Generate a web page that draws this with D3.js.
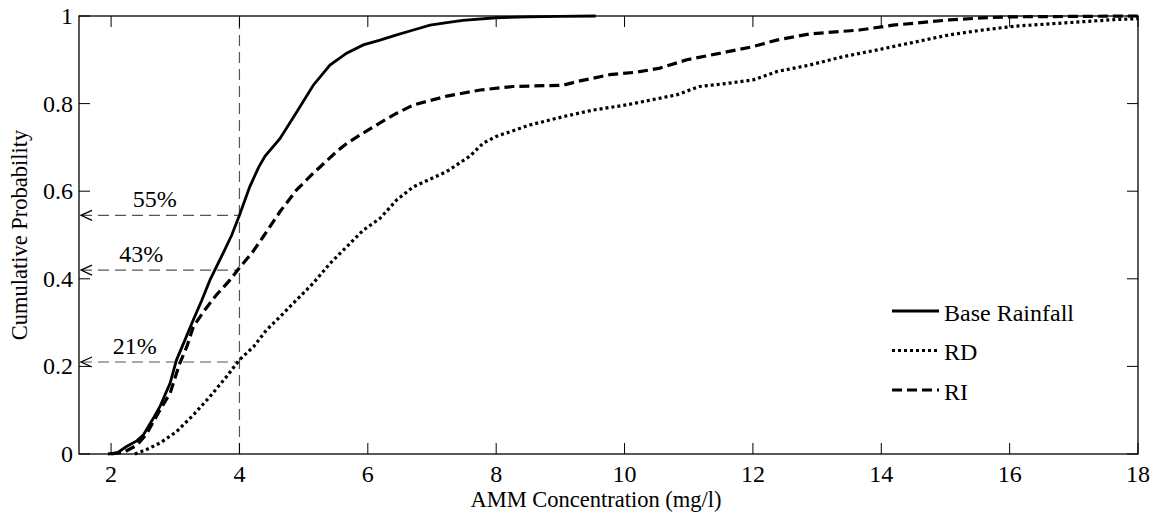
<!DOCTYPE html>
<html>
<head>
<meta charset="utf-8">
<script src="https://cdn.jsdelivr.net/npm/d3@7/dist/d3.min.js"></script>
<style>
    body { margin: 0; background: #fff; }
    text { font-family: "Liberation Serif", "Times New Roman", Times, serif; fill: #000; }
    .tick-label { font-size: 24px; }
    .axis-title { font-size: 22.5px; }
    .legend-label { font-size: 24px; }
    .pct-label { font-size: 24px; }
</style>
</head>
<body>
<div id="chart"></div>
<script>

// Cumulative curves (x = AMM mg/l, p = cumulative probability)
const baseX = [1.95, 2.1, 2.24, 2.4, 2.5, 2.66, 2.76, 2.92, 3.02, 3.15, 3.28, 3.41, 3.54, 3.65, 3.75, 3.88, 4.0, 4.16, 4.3, 4.4, 4.63, 4.89, 5.15, 5.41, 5.67, 5.93, 6.19, 6.45, 6.71, 6.97, 7.23, 7.48, 8.0, 8.5, 9.0, 9.55];
const baseP = [0, 0.003, 0.017, 0.03, 0.043, 0.082, 0.108, 0.162, 0.215, 0.26, 0.306, 0.35, 0.397, 0.43, 0.46, 0.5, 0.545, 0.61, 0.655, 0.68, 0.72, 0.78, 0.842, 0.888, 0.915, 0.934, 0.945, 0.957, 0.968, 0.979, 0.985, 0.99, 0.996, 0.998, 0.999, 1.0];

const rdX = [2.37, 2.55, 2.76, 3.02, 3.28, 3.54, 3.8, 4.0, 4.22, 4.42, 4.63, 4.89, 5.15, 5.41, 5.67, 5.93, 6.19, 6.45, 6.71, 7.23, 7.59, 7.8, 8.0, 8.52, 9.04, 9.5, 10.03, 10.81, 11.17, 11.59, 12.0, 12.37, 12.88, 13.4, 13.92, 14.44, 15.06, 15.58, 16.1, 16.62, 17.14, 17.66, 18.0];
const rdP = [0, 0.01, 0.025, 0.051, 0.089, 0.131, 0.177, 0.215, 0.245, 0.283, 0.313, 0.352, 0.39, 0.435, 0.473, 0.511, 0.538, 0.58, 0.61, 0.645, 0.68, 0.71, 0.725, 0.751, 0.77, 0.785, 0.797, 0.82, 0.839, 0.846, 0.854, 0.873, 0.888, 0.907, 0.922, 0.938, 0.957, 0.968, 0.977, 0.982, 0.987, 0.992, 0.994];

const riX = [2.0, 2.2, 2.4, 2.55, 2.76, 2.92, 3.07, 3.18, 3.28, 3.44, 3.64, 3.85, 4.0, 4.2, 4.37, 4.63, 4.89, 5.15, 5.51, 5.67, 5.93, 6.19, 6.45, 6.71, 7.23, 7.75, 8.26, 9.04, 9.25, 9.77, 10.2, 10.55, 10.97, 11.59, 12.0, 12.37, 12.88, 13.66, 14.18, 15.06, 15.5, 15.95, 18.0];
const riP = [0, 0.004, 0.02, 0.045, 0.1, 0.139, 0.207, 0.245, 0.29, 0.325, 0.363, 0.397, 0.425, 0.46, 0.496, 0.553, 0.603, 0.641, 0.69, 0.709, 0.733, 0.756, 0.778, 0.797, 0.817, 0.831, 0.839, 0.842, 0.85, 0.866, 0.872, 0.881, 0.9, 0.918, 0.93, 0.945, 0.959, 0.968, 0.979, 0.991, 0.995, 0.998, 1.0];

const seriesNames = ["Base Rainfall", "RD", "RI"];

const xTicks = [2, 4, 6, 8, 10, 12, 14, 16, 18];
const yTicks = [0, 0.2, 0.4, 0.6, 0.8, 1];
const yTickLabels = ["0", "0.2", "0.4", "0.6", "0.8", "1"];

// Threshold annotation at 4 mg/l
const thresholdX = 4;
const pctValues = [0.545, 0.42, 0.21];
const pctLabels = ["55%", "43%", "21%"];
const pctLabelX = [2.68, 2.47, 2.37];


const width = 1157, height = 515;
const margin = {top: 16, right: 19, bottom: 61, left: 79};
const innerW = width - margin.left - margin.right;
const innerH = height - margin.top - margin.bottom;

const svg = d3.select("#chart")
    .append("svg")
    .attr("width", width)
    .attr("height", height);

const g = svg.append("g")
    .attr("transform", "translate(" + margin.left + "," + margin.top + ")");

const x = d3.scaleLinear().domain([1.5, 18]).range([0, innerW]);
const y = d3.scaleLinear().domain([0, 1]).range([innerH, 0]);

// arrow marker (open "<" at the start of the line)
svg.append("defs").append("marker")
    .attr("id", "arrow")
    .attr("viewBox", "-1 -6 13 12")
    .attr("refX", 0)
    .attr("refY", 0)
    .attr("markerWidth", 13)
    .attr("markerHeight", 12)
    .attr("markerUnits", "userSpaceOnUse")
    .attr("orient", "auto")
    .append("path")
    .attr("d", "M11,-5L0,0L11,5")
    .attr("fill", "none")
    .attr("stroke", "#000")
    .attr("stroke-width", 1.3);

// reference dashed lines
g.append("line")
    .attr("x1", x(thresholdX)).attr("x2", x(thresholdX))
    .attr("y1", y(0)).attr("y2", y(1))
    .attr("stroke", "#555")
    .attr("stroke-width", 1.2)
    .attr("stroke-dasharray", "11,6");

g.selectAll(".pct-line")
    .data(pctValues)
    .enter().append("line")
    .attr("class", "pct-line")
    .attr("x1", x(1.5) + 2).attr("x2", x(thresholdX))
    .attr("y1", d => y(d)).attr("y2", d => y(d))
    .attr("stroke", "#555")
    .attr("stroke-width", 1.2)
    .attr("stroke-dasharray", "11,6")
    .attr("marker-start", "url(#arrow)");

g.selectAll(".pct-label")
    .data(pctValues)
    .enter().append("text")
    .attr("class", "pct-label")
    .attr("x", (d, i) => x(pctLabelX[i]))
    .attr("y", d => y(d) - 8)
    .attr("text-anchor", "middle")
    .text((d, i) => pctLabels[i]);

// curves
const line = d3.line()
    .x(d => x(d[0]))
    .y(d => y(d[1]));

const series = [
    {name: seriesNames[0], xs: baseX, ps: baseP, dash: null, w: 2.8},
    {name: seriesNames[1], xs: rdX, ps: rdP, dash: "3,3", w: 3.2},
    {name: seriesNames[2], xs: riX, ps: riP, dash: "10,5", w: 3.2}
];

series.forEach(s => {
    g.append("path")
        .datum(s.xs.map((v, i) => [v, s.ps[i]]))
        .attr("d", line)
        .attr("fill", "none")
        .attr("stroke", "#000")
        .attr("stroke-width", s.w)
        .attr("stroke-dasharray", s.dash);
});

// frame
g.append("rect")
    .attr("width", innerW)
    .attr("height", innerH)
    .attr("fill", "none")
    .attr("stroke", "#000")
    .attr("stroke-width", 1.3);

// ticks (inward, on all four sides)
const tickLen = 11;
xTicks.forEach(t => {
    g.append("line").attr("x1", x(t)).attr("x2", x(t)).attr("y1", innerH).attr("y2", innerH - tickLen).attr("stroke", "#000");
    g.append("line").attr("x1", x(t)).attr("x2", x(t)).attr("y1", 0).attr("y2", tickLen).attr("stroke", "#000");
});
yTicks.forEach(t => {
    g.append("line").attr("x1", 0).attr("x2", tickLen).attr("y1", y(t)).attr("y2", y(t)).attr("stroke", "#000");
    g.append("line").attr("x1", innerW).attr("x2", innerW - tickLen).attr("y1", y(t)).attr("y2", y(t)).attr("stroke", "#000");
});

g.selectAll(".x-tick-label")
    .data(xTicks)
    .enter().append("text")
    .attr("class", "tick-label")
    .attr("x", d => x(d))
    .attr("y", innerH + 28)
    .attr("text-anchor", "middle")
    .text(d => d);

g.selectAll(".y-tick-label")
    .data(yTicks)
    .enter().append("text")
    .attr("class", "tick-label")
    .attr("x", -6)
    .attr("y", d => y(d))
    .attr("dy", "0.33em")
    .attr("text-anchor", "end")
    .text((d, i) => yTickLabels[i]);

// axis titles
svg.append("text")
    .attr("class", "axis-title")
    .attr("x", 596)
    .attr("y", 507)
    .attr("text-anchor", "middle")
    .text("AMM Concentration (mg/l)");

svg.append("text")
    .attr("class", "axis-title")
    .attr("transform", "translate(27," + (margin.top + innerH / 2) + ") rotate(-90)")
    .attr("text-anchor", "middle")
    .text("Cumulative Probability");

// legend
const legend = svg.append("g")
    .attr("transform", "translate(892,311)");

series.forEach((s, i) => {
    legend.append("line")
        .attr("x1", 0).attr("x2", 47)
        .attr("y1", i * 39.5).attr("y2", i * 39.5)
        .attr("stroke", "#000")
        .attr("stroke-width", s.w)
        .attr("stroke-dasharray", s.dash);
    legend.append("text")
        .attr("class", "legend-label")
        .attr("x", 52)
        .attr("y", i * 39.5)
        .attr("dy", "0.4em")
        .text(s.name);
});

</script>
</body>
</html>
